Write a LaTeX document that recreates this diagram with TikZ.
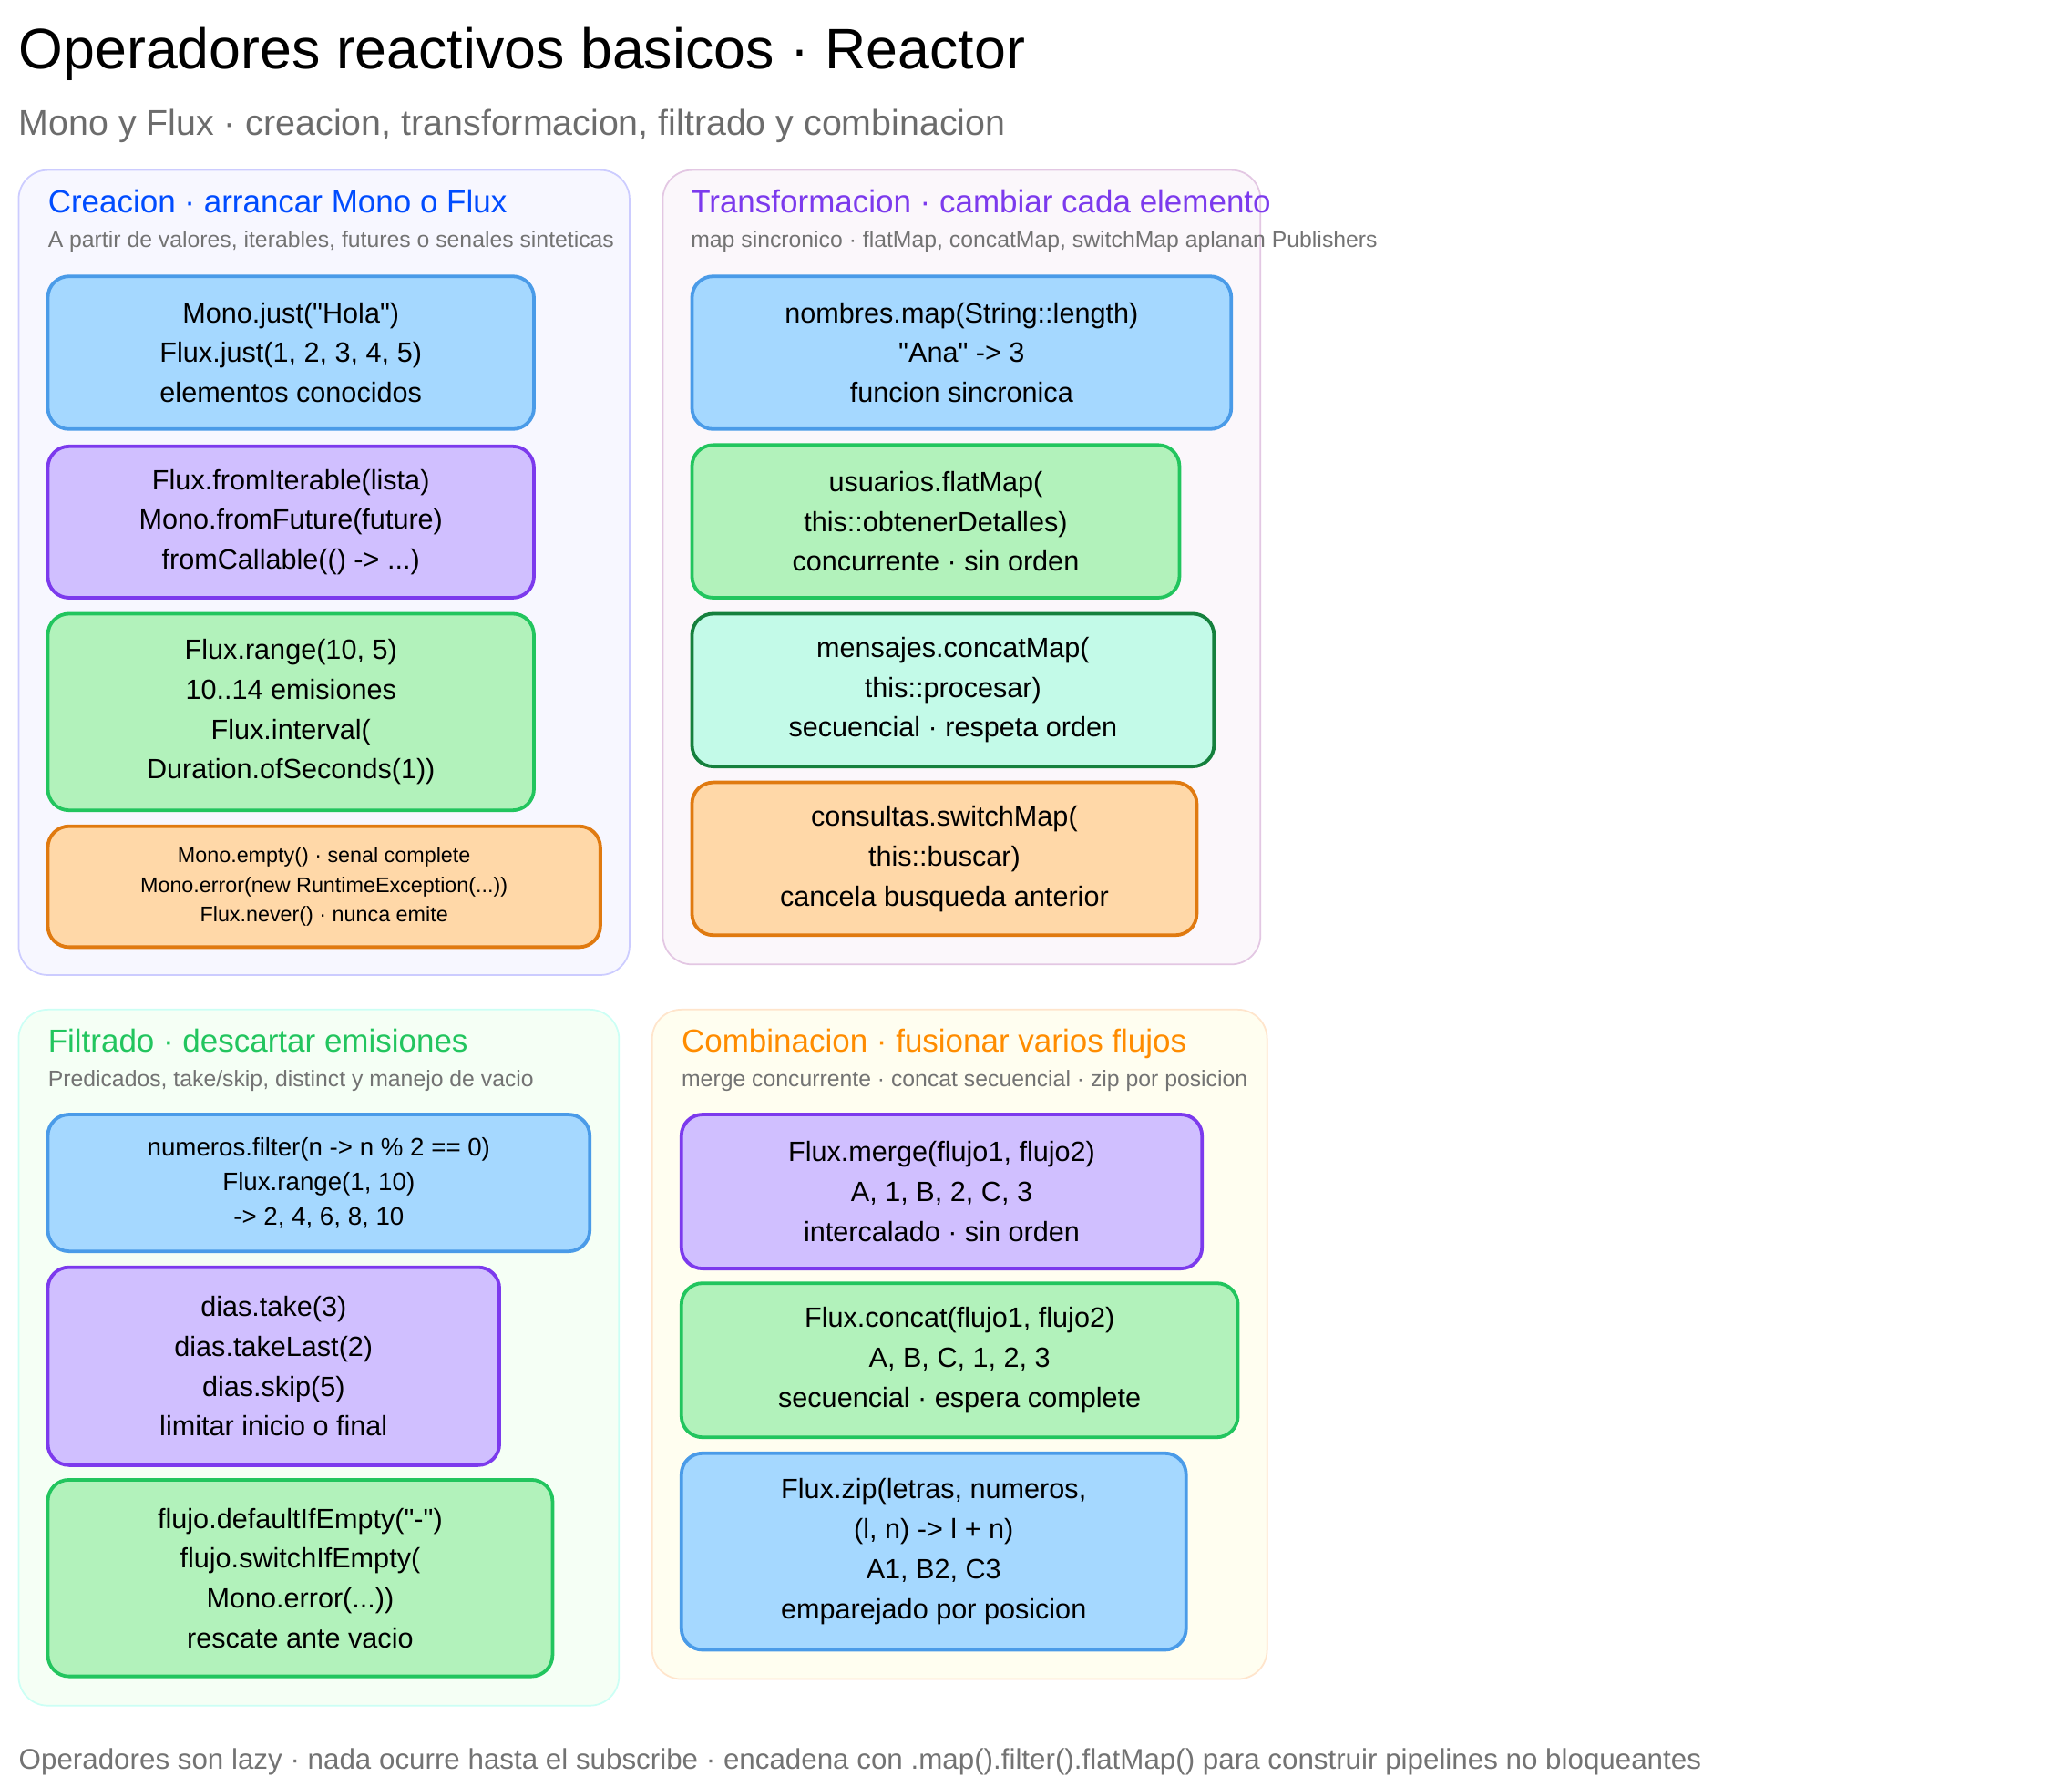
\documentclass[tikz,border=0pt]{standalone}
\usepackage{fontspec}
\defaultfontfeatures{}
\defaultfontfeatures[\rmfamily]{}
\setmainfont{Liberation Sans}
\newcommand{\q}{\symbol{34}}
\begin{document}
\begin{tikzpicture}[x=1pt,y=-1pt,
  panel/.style={draw, line width=1.2pt, rounded corners=22pt, inner sep=0pt},
  box/.style={draw, line width=2.6pt, rounded corners=16pt, inner sep=0pt, align=center, font=\fontsize{21}{30}\selectfont},
  bl/.style={box, fill=blueF, draw=blueS},
  pu/.style={box, fill=purF, draw=purS},
  gr/.style={box, fill=grnF, draw=grnS},
  te/.style={box, fill=tealF, draw=tealS},
  or/.style={box, fill=orF, draw=orS},
  ptitle/.style={anchor=base west, inner sep=0pt, font=\fontsize{24}{26}\selectfont},
  psub/.style={anchor=base west, inner sep=0pt, text=gray!90!black, font=\fontsize{17}{20}\selectfont},
]
\definecolor{blueF}{HTML}{A5D8FF}\definecolor{blueS}{HTML}{4A9BE8}
\definecolor{purF}{HTML}{D0BFFF}\definecolor{purS}{HTML}{7C3AED}
\definecolor{grnF}{HTML}{B2F2BB}\definecolor{grnS}{HTML}{22C55E}
\definecolor{tealF}{HTML}{C3FAE8}\definecolor{tealS}{HTML}{15803D}
\definecolor{orF}{HTML}{FFD8A8}\definecolor{orS}{HTML}{E07A10}
\useasboundingbox[fill=white] (0,0) rectangle (1560,1345);

\node[anchor=base west, inner sep=0pt, font=\fontsize{43}{46}\selectfont] (title) at (14,52) {Operadores reactivos basicos · Reactor};
\node[anchor=base west, inner sep=0pt, text=gray!85!black, font=\fontsize{27}{30}\selectfont] (sub) at (14,102) {Mono y Flux · creacion, transformacion, filtrado y combinacion};

% panels
\node[panel, fill=blue!3, draw=blue!20, minimum width=460pt, minimum height=606pt] (p1) at (244,431) {};
\node[panel, fill=violet!3, draw=violet!22, minimum width=450pt, minimum height=598pt] (p2) at (724,427) {};
\node[panel, fill=green!4, draw=green!20!cyan!20, minimum width=452pt, minimum height=524pt] (p3) at (240,1022) {};
\node[panel, fill=yellow!6, draw=orange!20, minimum width=463pt, minimum height=504pt] (p4) at (722.5,1012) {};

\node[ptitle, text=blue!70!cyan] (t1) at (36,160) {Creacion · arrancar Mono o Flux};
\node[psub] (s1) at (36,186) {A partir de valores, iterables, futures o senales sinteticas};
\node[ptitle, text=purS] (t2) at (520,160) {Transformacion · cambiar cada elemento};
\node[psub] (s2) at (520,186) {map sincronico · flatMap, concatMap, switchMap aplanan Publishers};
\node[ptitle, text=grnS] (t3) at (36,792) {Filtrado · descartar emisiones};
\node[psub] (s3) at (36,818) {Predicados, take/skip, distinct y manejo de vacio};
\node[ptitle, text=orange!90!yellow] (t4) at (513,792) {Combinacion · fusionar varios flujos};
\node[psub] (s4) at (513,818) {merge concurrente · concat secuencial · zip por posicion};

% creation
\node[bl, minimum width=366pt, minimum height=115pt] (b1) at (219,265.5) {Mono.just(\q Hola\q)\\Flux.just(1, 2, 3, 4, 5)\\elementos conocidos};
\node[pu, minimum width=366pt, minimum height=114pt] (b2) at (219,393) {Flux.fromIterable(lista)\\Mono.fromFuture(future)\\fromCallable(() -> ...)};
\node[gr, minimum width=366pt, minimum height=148pt] (b3) at (219,536) {Flux.range(10, 5)\\10..14 emisiones\\Flux.interval(\\Duration.ofSeconds(1))};
\node[or, minimum width=416pt, minimum height=91pt, font=\fontsize{16}{22}\selectfont] (b4) at (244,667.5) {Mono.empty() · senal complete\\Mono.error(new RuntimeException(...))\\Flux.never() · nunca emite};

% transformation
\node[bl, minimum width=406pt, minimum height=115pt] (b5) at (724,265.5) {nombres.map(String::length)\\\q Ana\q{} -> 3\\funcion sincronica};
\node[gr, minimum width=367pt, minimum height=115pt] (b6) at (704.5,392.5) {usuarios.flatMap(\\this::obtenerDetalles)\\concurrente · sin orden};
\node[te, minimum width=393pt, minimum height=115pt] (b7) at (717.5,519.5) {mensajes.concatMap(\\this::procesar)\\secuencial · respeta orden};
\node[or, minimum width=380pt, minimum height=115pt] (b8) at (711,646.5) {consultas.switchMap(\\this::buscar)\\cancela busqueda anterior};

% filtering
\node[bl, minimum width=408pt, minimum height=103pt, font=\fontsize{19}{26}\selectfont] (b9) at (240,890.5) {numeros.filter(n -> n \% 2 == 0)\\Flux.range(1, 10)\\-> 2, 4, 6, 8, 10};
\node[pu, minimum width=340pt, minimum height=149pt] (b10) at (206,1028.5) {dias.take(3)\\dias.takeLast(2)\\dias.skip(5)\\limitar inicio o final};
\node[gr, minimum width=380pt, minimum height=148pt] (b11) at (226,1188) {flujo.defaultIfEmpty(\q-\q)\\flujo.switchIfEmpty(\\Mono.error(...))\\rescate ante vacio};

% combination
\node[pu, minimum width=392pt, minimum height=116pt] (b12) at (709,897) {Flux.merge(flujo1, flujo2)\\A, 1, B, 2, C, 3\\intercalado · sin orden};
\node[gr, minimum width=419pt, minimum height=116pt] (b13) at (722.5,1024) {Flux.concat(flujo1, flujo2)\\A, B, C, 1, 2, 3\\secuencial · espera complete};
\node[bl, minimum width=380pt, minimum height=148pt] (b14) at (703,1168) {Flux.zip(letras, numeros,\\(l, n) -> l + n)\\A1, B2, C3\\emparejado por posicion};

\node[anchor=base west, inner sep=0pt, text=gray!90!black, font=\fontsize{21.5}{24}\selectfont] (foot) at (14,1332) {Operadores son lazy · nada ocurre hasta el subscribe · encadena con .map().filter().flatMap() para construir pipelines no bloqueantes};
\end{tikzpicture}
\end{document}
